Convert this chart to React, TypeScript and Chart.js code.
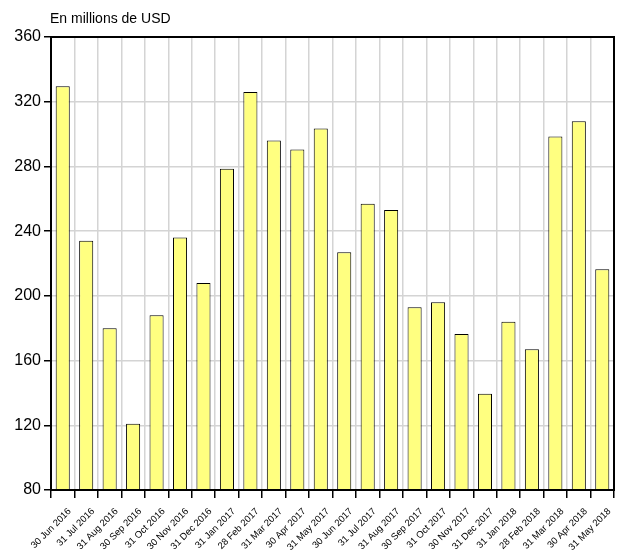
import React from 'react';

import Chart from 'chart.js/auto';

const categories = [
    '30 Jun 2016', '31 Jul 2016', '31 Aug 2016', '30 Sep 2016', '31 Oct 2016', '30 Nov 2016',
    '31 Dec 2016', '31 Jan 2017', '28 Feb 2017', '31 Mar 2017', '30 Apr 2017', '31 May 2017',
    '30 Jun 2017', '31 Jul 2017', '31 Aug 2017', '30 Sep 2017', '31 Oct 2017', '30 Nov 2017',
    '31 Dec 2017', '31 Jan 2018', '28 Feb 2018', '31 Mar 2018', '30 Apr 2018', '31 May 2018',
];

const values = [
    329.5, 234, 180, 121, 188, 236, 208, 278.5, 326, 296, 290.5, 303.5,
    227, 257, 253, 193, 196, 176.5, 139.5, 184, 167, 298.5, 308, 216.5,
];

const yMin = 80;
const yMax = 360;
const yStep = 40;
const unitLabel = 'En millions de USD';

const FONT = '"Liberation Sans", Arial, sans-serif';

// frame round the plot area plus the unit text above it
const framePlugin = {
    id: 'frame',
    afterDraw(chart: any) {
        const { ctx, chartArea } = chart;
        ctx.save();
        ctx.strokeStyle = '#000';
        ctx.lineWidth = 2;
        ctx.strokeRect(chartArea.left, chartArea.top, chartArea.right - chartArea.left, chartArea.bottom - chartArea.top);
        ctx.fillStyle = '#000';
        ctx.font = `14px ${FONT}`;
        ctx.textAlign = 'left';
        ctx.textBaseline = 'alphabetic';
        ctx.fillText(unitLabel, chartArea.left - 1, chartArea.top - 14);
        ctx.restore();
    },
};

const BarChart = () => {
    const canvasRef = React.useRef<HTMLCanvasElement>(null);

    React.useEffect(() => {
        const canvas = canvasRef.current;
        if (!canvas) return;

        const chart = new Chart(canvas, {
            type: 'bar',
            data: {
                labels: categories,
                datasets: [{
                    data: values,
                    backgroundColor: '#ffff80',
                    borderColor: '#000',
                    borderWidth: 1,
                    borderSkipped: false,
                    barPercentage: 0.6,
                    categoryPercentage: 1,
                }],
            },
            options: {
                responsive: true,
                maintainAspectRatio: false,
                animation: false,
                layout: { padding: { top: 37, right: 12, left: 0, bottom: 0 } },
                plugins: {
                    legend: { display: false },
                    tooltip: { enabled: false },
                },
                scales: {
                    x: {
                        afterFit: (scale: any) => { scale.height = 65; },
                        grid: {
                            color: '#d4d4d4',
                            lineWidth: 1.5,
                            tickColor: '#000',
                            tickLength: 8,
                            offset: true,
                        },
                        border: { color: '#000', width: 2 },
                        ticks: {
                            autoSkip: false,
                            minRotation: 45,
                            maxRotation: 45,
                            padding: 8,
                            labelOffset: 7,
                            color: '#000',
                            font: { family: FONT, size: 9.5 },
                        },
                    },
                    y: {
                        min: yMin,
                        max: yMax,
                        afterFit: (scale: any) => { scale.width = 51; },
                        grid: {
                            color: '#d4d4d4',
                            lineWidth: 1.5,
                            tickColor: '#000',
                            tickLength: 7,
                        },
                        border: { color: '#000', width: 2 },
                        ticks: {
                            stepSize: yStep,
                            padding: 3,
                            color: '#000',
                            font: { family: FONT, size: 16 },
                        },
                    },
                },
            },
            plugins: [framePlugin],
        });

        return () => {
            chart.destroy();
        };
    }, []);

    return (
        <div style={{ position: 'fixed', left: 0, top: 0, width: 626, height: 555, background: '#fff' }}>
            <canvas ref={canvasRef}></canvas>
        </div>
    );
};

export default function App() {
    return <BarChart />;
}
